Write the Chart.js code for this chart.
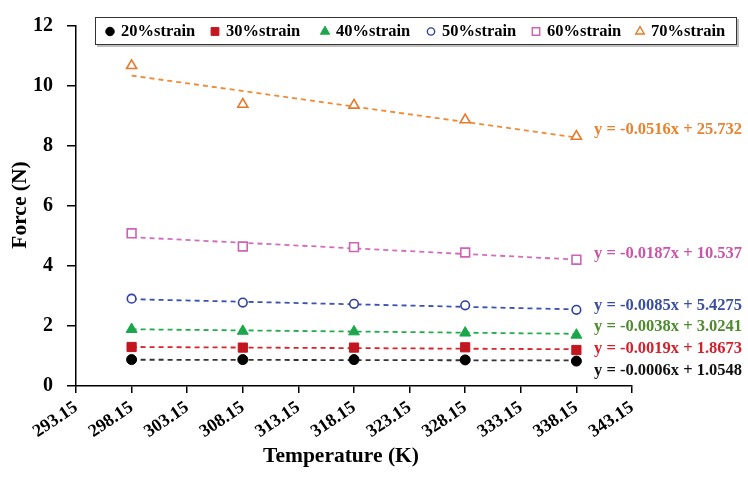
<!DOCTYPE html>
<html>
<head>
<meta charset="utf-8">
<script src="https://cdn.jsdelivr.net/npm/chart.js@4.4.1/dist/chart.umd.min.js"></script>
<style>
  html, body { margin: 0; padding: 0; background: #ffffff; }
  #wrap { width: 748px; height: 490px; position: relative; }
</style>
</head>
<body>
<div id="wrap"><canvas id="c" width="748" height="490"></canvas></div>
<script>
// ---- data ----
const temperatures = [298.15, 308.15, 318.15, 328.15, 338.15];
const strain20 = [0.88, 0.88, 0.88, 0.87, 0.83];
const strain30 = [1.30, 1.28, 1.28, 1.29, 1.20];
const strain40 = [1.89, 1.83, 1.81, 1.77, 1.70];
const strain50 = [2.91, 2.78, 2.74, 2.69, 2.54];
const strain60 = [5.09, 4.65, 4.63, 4.45, 4.21];
const strain70 = [10.68, 9.39, 9.36, 8.87, 8.32];
const seriesLabels = ['20%strain', '30%strain', '40%strain', '50%strain', '60%strain', '70%strain'];
const trendSlopes = [-0.0006, -0.0019, -0.0038, -0.0085, -0.0187, -0.0516];
const trendIntercepts = [1.0548, 1.8673, 3.0241, 5.4275, 10.537, 25.732];
const equationLabels = [
  'y = -0.0006x + 1.0548',
  'y = -0.0019x + 1.8673',
  'y = -0.0038x + 3.0241',
  'y = -0.0085x + 5.4275',
  'y = -0.0187x + 10.537',
  'y = -0.0516x + 25.732'
];
const xTickLabels = ['293.15','298.15','303.15','308.15','313.15','318.15','323.15','328.15','333.15','338.15','343.15'];
const yTickLabels = ['0','2','4','6','8','10','12'];

// ---- styles ----
const allSeries = [strain20, strain30, strain40, strain50, strain60, strain70];
const markerStyles = [
  { shape: 'circle',   radius: 5,   fill: '#000000', stroke: '#000000' },
  { shape: 'rect',     radius: 6.5, fill: '#c3161f', stroke: '#c3161f' },
  { shape: 'triangle', radius: 6.3, fill: '#1ba64b', stroke: '#1ba64b' },
  { shape: 'circle',   radius: 4.3, fill: '#ffffff', stroke: '#2f40a0' },
  { shape: 'rect',     radius: 6.2, fill: '#ffffff', stroke: '#d062b4' },
  { shape: 'triangle', radius: 5.8, fill: '#ffffff', stroke: '#e8782a' }
];
const trendColors = ['#333333', '#d8242d', '#22ac4c', '#3b52b0', '#d46cbc', '#f08a35'];
const eqColors = ['#111111', '#d3202b', '#4e8a2e', '#3a4fa2', '#c856a8', '#e8822e'];
const eqY = [371, 349, 327, 306, 254, 130];
const legendX = [110, 215, 325, 431, 536, 640];
const FONT = '"Liberation Serif", "Times New Roman", serif';

const datasets = [];
allSeries.forEach((vals, i) => {
  const m = markerStyles[i];
  datasets.push({
    label: seriesLabels[i],
    data: temperatures.map((t, k) => ({ x: t, y: vals[k] })),
    showLine: false,
    pointStyle: m.shape,
    pointRadius: m.radius,
    pointHoverRadius: m.radius,
    pointBackgroundColor: m.fill,
    pointBorderColor: m.stroke,
    pointBorderWidth: m.fill === '#ffffff' ? 1.6 : 1,
    order: 1
  });
});
allSeries.forEach((vals, i) => {
  const x0 = temperatures[0], x1 = temperatures[temperatures.length - 1];
  datasets.push({
    label: 'trend ' + seriesLabels[i],
    data: [
      { x: x0, y: trendSlopes[i] * x0 + trendIntercepts[i] },
      { x: x1, y: trendSlopes[i] * x1 + trendIntercepts[i] }
    ],
    showLine: true,
    borderColor: trendColors[i],
    borderWidth: 1.8,
    borderDash: [5, 4],
    pointRadius: 0,
    pointHoverRadius: 0,
    fill: false,
    order: 2
  });
});

function drawMarker(ctx, shape, x, y, r, fill, stroke, lw) {
  ctx.save();
  ctx.beginPath();
  if (shape === 'circle') {
    ctx.arc(x, y, r, 0, Math.PI * 2);
  } else if (shape === 'rect') {
    const s = Math.SQRT1_2 * r;
    ctx.rect(x - s, y - s, 2 * s, 2 * s);
  } else {
    let a = 0;
    ctx.moveTo(x + Math.sin(a) * r, y - Math.cos(a) * r);
    a += 2 * Math.PI / 3;
    ctx.lineTo(x + Math.sin(a) * r, y - Math.cos(a) * r);
    a += 2 * Math.PI / 3;
    ctx.lineTo(x + Math.sin(a) * r, y - Math.cos(a) * r);
    ctx.closePath();
  }
  ctx.fillStyle = fill;
  ctx.fill();
  ctx.lineWidth = lw;
  ctx.strokeStyle = stroke;
  ctx.stroke();
  ctx.restore();
}

const overlay = {
  id: 'overlay',
  afterDraw(chart) {
    const ctx = chart.ctx;
    // legend box
    ctx.save();
    ctx.fillStyle = 'rgba(0,0,0,0.25)';
    ctx.fillRect(97, 19, 642, 28);
    ctx.fillStyle = '#ffffff';
    ctx.fillRect(95, 17, 642, 28);
    ctx.strokeStyle = '#333333';
    ctx.lineWidth = 1;
    ctx.strokeRect(95.5, 17.5, 641, 27);
    ctx.font = 'bold 16.5px ' + FONT;
    ctx.textBaseline = 'middle';
    ctx.textAlign = 'left';
    ctx.fillStyle = '#000000';
    seriesLabels.forEach((lab, i) => {
      const m = markerStyles[i];
      drawMarker(ctx, m.shape, legendX[i], 31.5, m.radius * 0.85, m.fill, m.stroke, m.fill === '#ffffff' ? 1.4 : 1);
      ctx.fillStyle = '#000000';
      ctx.fillText(lab, legendX[i] + 11, 32);
    });
    // equations
    ctx.font = 'bold 16.5px ' + FONT;
    equationLabels.forEach((eq, i) => {
      ctx.fillStyle = eqColors[i];
      ctx.fillText(eq, 594, eqY[i]);
    });
    // axis titles
    ctx.fillStyle = '#000000';
    ctx.font = 'bold 21.5px ' + FONT;
    ctx.textAlign = 'center';
    ctx.fillText('Temperature (K)', 341, 456);
    ctx.translate(20, 205);
    ctx.rotate(-Math.PI / 2);
    ctx.fillText('Force (N)', 0, 0);
    ctx.restore();
  }
};

new Chart(document.getElementById('c'), {
  type: 'scatter',
  data: { datasets },
  options: {
    responsive: false,
    animation: false,
    events: [],
    layout: { padding: { left: 0, top: 22, right: 116, bottom: 0 } },
    plugins: { legend: { display: false }, tooltip: { enabled: false } },
    scales: {
      x: {
        type: 'linear',
        min: parseFloat(xTickLabels[0]),
        max: parseFloat(xTickLabels[xTickLabels.length - 1]),
        afterBuildTicks(scale) { scale.ticks = xTickLabels.map(v => ({ value: parseFloat(v) })); },
        afterFit(scale) { scale.height = 104; },
        grid: { display: true, drawOnChartArea: false, drawTicks: true, tickLength: 7, color: '#000000', lineWidth: 1.5 },
        border: { display: true, color: '#000000', width: 1.5 },
        ticks: {
          autoSkip: false, minRotation: 34, maxRotation: 34, padding: 4,
          color: '#000000', font: { family: FONT, size: 18, weight: 'bold' },
          callback: (v) => xTickLabels.find(l => Math.abs(parseFloat(l) - v) < 1e-6) || ''
        }
      },
      y: {
        type: 'linear',
        min: 0, max: 12,
        afterBuildTicks(scale) { scale.ticks = yTickLabels.map(v => ({ value: parseFloat(v) })); },
        afterFit(scale) { scale.width = 76; },
        grid: { display: true, drawOnChartArea: false, drawTicks: true, tickLength: 9, color: '#000000', lineWidth: 1.5 },
        border: { display: true, color: '#000000', width: 1.5 },
        ticks: {
          padding: 14, color: '#000000', font: { family: FONT, size: 20, weight: 'bold' },
          callback: (v) => yTickLabels.find(l => parseFloat(l) === v) || ''
        }
      }
    }
  },
  plugins: [overlay]
});
</script>
</body>
</html>
